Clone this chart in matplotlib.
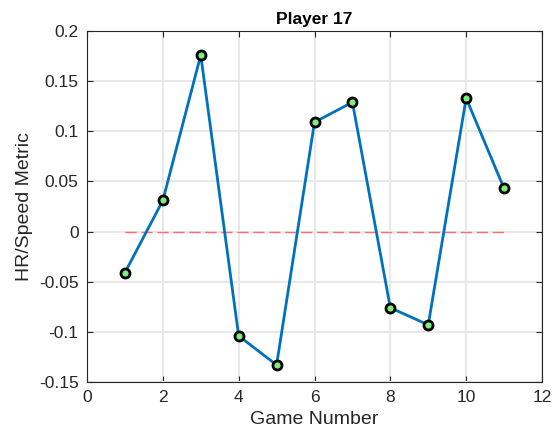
import numpy as np
import matplotlib.pyplot as plt

plt.rcParams['font.family'] = ['Liberation Sans', 'DejaVu Sans']

games = [1, 2, 3, 4, 5, 6, 7, 8, 9, 10, 11]
metric = [-0.041, 0.031, 0.176, -0.104, -0.133, 0.109, 0.129, -0.076, -0.093, 0.133, 0.043]
x_ticks = [0, 2, 4, 6, 8, 10, 12]
y_ticks = [-0.15, -0.1, -0.05, 0, 0.05, 0.1, 0.15, 0.2]
y_labels = ['-0.15', '-0.1', '-0.05', '0', '0.05', '0.1', '0.15', '0.2']

fig = plt.figure(figsize=(5.53, 4.40), dpi=100)
# axes box: x 87..542 px, y 31..382 px
ax = fig.add_axes([87 / 553, (440 - 382) / 440, 455 / 553, 351 / 440])

ax.plot([games[0], games[-1]], [0, 0], color='#ff6b6b', linestyle=(0, (8, 3.5)), linewidth=1)
ax.plot(games, metric, color='#0072BD', linewidth=2,
        marker='o', markersize=6.5, markerfacecolor='#7def7d',
        markeredgecolor='black', markeredgewidth=2, zorder=3)

ax.set_xlim(0, 12)
ax.set_ylim(-0.15, 0.2)
ax.set_xticks(x_ticks)
ax.set_yticks(y_ticks)
ax.set_yticklabels(y_labels)
ax.grid(True, color='#e8e8e8', linewidth=1.5)
ax.set_axisbelow(True)
ax.tick_params(direction='in', labelsize=12.5, colors='#262626', length=4,
               top=True, right=True, pad=6)
for s in ax.spines.values():
    s.set_color('#262626')
    s.set_linewidth(0.8)

ax.set_title('Player 17', fontsize=12.5, fontweight='bold', pad=5)
ax.set_xlabel('Game Number', fontsize=14, color='#262626', labelpad=4)
ax.set_ylabel('HR/Speed Metric', fontsize=14, color='#262626', labelpad=4)

fig.savefig('out.png', dpi=100)
plt.close(fig)
